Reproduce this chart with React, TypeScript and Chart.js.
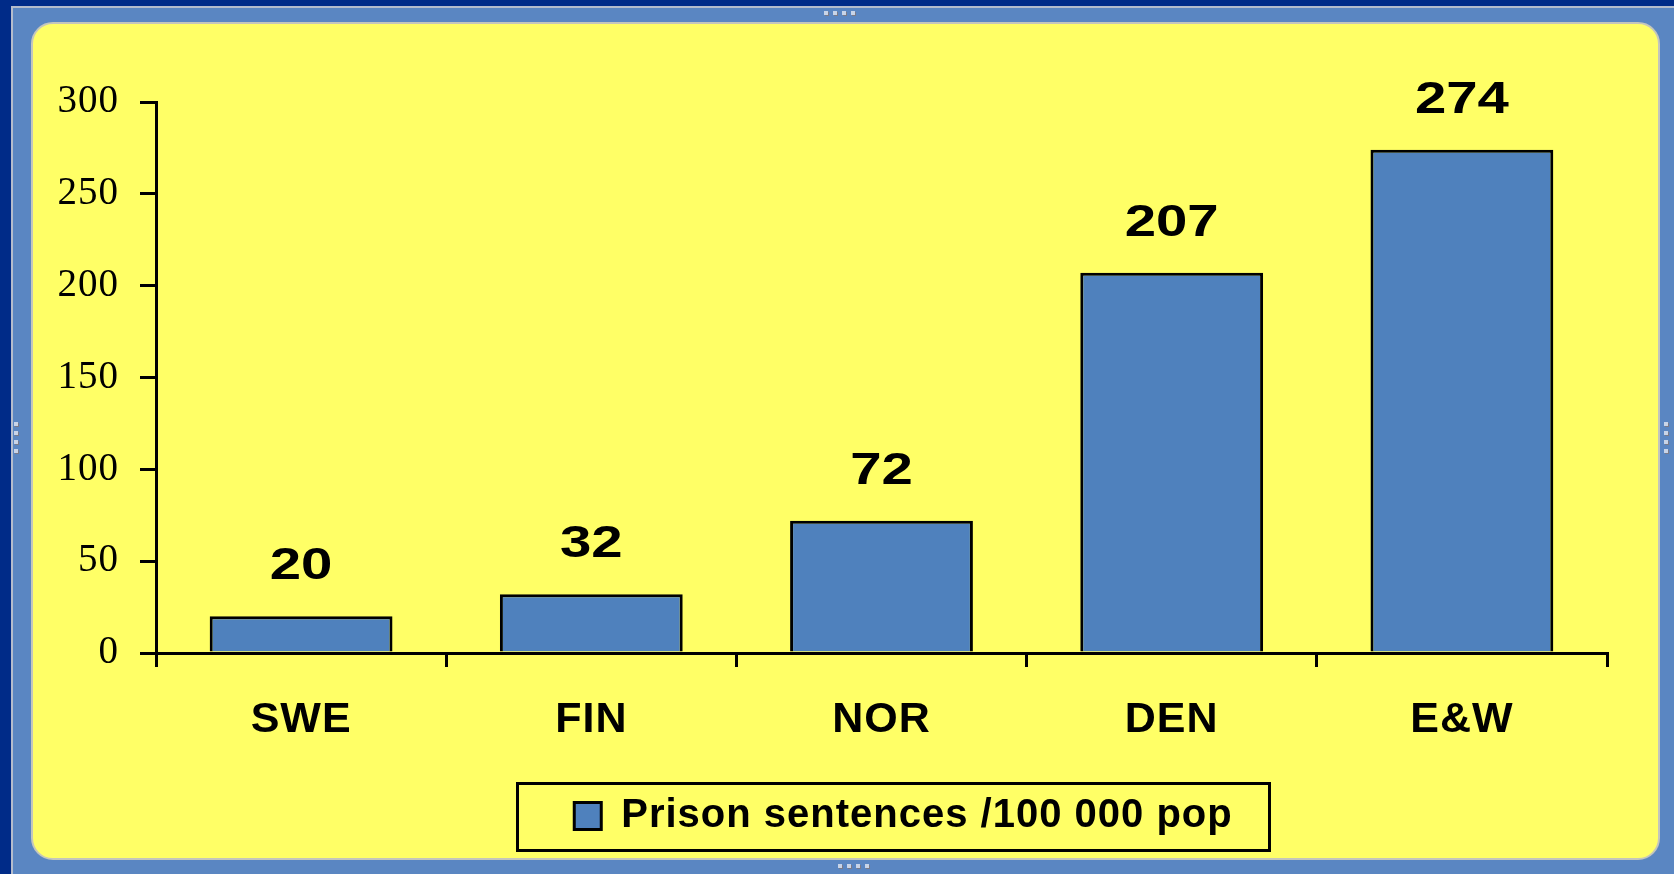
import React, { useEffect, useRef } from "react";
import { Chart, registerables } from "chart.js";

Chart.register(...registerables);

const categories = ["SWE", "FIN", "NOR", "DEN", "E&W"];
const sentences = [20, 32, 72, 207, 274];
const seriesLabel = "Prison sentences /100 000 pop";
const yTicks = [0, 50, 100, 150, 200, 250, 300];

const W = 1674;
const H = 874;
const SANS = "'Liberation Sans', Arial, sans-serif";
const SERIF = "'Liberation Serif', 'Times New Roman', serif";

const spacing = {
  id: "spacing",
  beforeLayout(chart: any) {
    chart.ctx.letterSpacing = "1px";
  },
  beforeDraw(chart: any) {
    chart.ctx.letterSpacing = "1px";
  },
  afterLayout(chart: any) {
    const lg = chart.legend;
    if (lg) {
      lg.left += 22;
      lg.right += 22;
    }
  },
};

const valueLabels = {
  id: "valueLabels",
  afterDatasetsDraw(chart: any) {
    const ctx = chart.ctx;
    const meta = chart.getDatasetMeta(0);
    const data = chart.data.datasets[0].data as number[];
    ctx.save();
    ctx.letterSpacing = "0px";
    ctx.fillStyle = "#000";
    ctx.font = `bold 44px ${SANS}`;
    ctx.textAlign = "center";
    ctx.textBaseline = "alphabetic";
    meta.data.forEach((bar: any, i: number) => {
      ctx.save();
      ctx.translate(bar.x, bar.y - 37);
      ctx.scale(1.28, 1);
      ctx.fillText(String(data[i]), 0, 0);
      ctx.restore();
    });
    ctx.restore();
  },
};

const legendBorder = {
  id: "legendBorder",
  afterDraw(chart: any) {
    const lg = chart.legend;
    if (!lg) return;
    const cx = (lg.left + lg.right) / 2 - 11;
    const cy = lg.top + 10 + 20;
    const bw = 752;
    const bh = 67;
    const ctx = chart.ctx;
    ctx.save();
    ctx.strokeStyle = "#000";
    ctx.lineWidth = 3;
    ctx.strokeRect(Math.round(cx - bw / 2) + 0.5, Math.round(cy - bh / 2) + 0.5, bw, bh);
    ctx.restore();
  },
};

function Handle({ style, vertical }: { style: React.CSSProperties; vertical?: boolean }) {
  const dots = [0, 1, 2, 3];
  return (
    <div style={{ position: "absolute", display: "flex", flexDirection: vertical ? "column" : "row", gap: 5, ...style }}>
      {dots.map((d) => (
        <div key={d} style={{ width: 4, height: 4, background: "#c8d4e8", boxShadow: "1px 1px 0 #7a7a88" }} />
      ))}
    </div>
  );
}

export default function App() {
  const ref = useRef<HTMLCanvasElement | null>(null);

  useEffect(() => {
    if (!ref.current) return;
    const chart = new Chart(ref.current, {
      type: "bar",
      data: {
        labels: categories,
        datasets: [
          {
            label: seriesLabel,
            data: sentences,
            backgroundColor: "#4F81BD",
            borderColor: "#000000",
            borderWidth: 3,
            categoryPercentage: 1,
            barPercentage: 0.63,
          },
        ],
      },
      options: {
        responsive: false,
        animation: false,
        devicePixelRatio: 1,
        layout: { padding: { left: 0, top: 102, right: 67, bottom: 28 } },
        plugins: {
          tooltip: { enabled: false },
          title: { display: false },
          legend: {
            display: true,
            position: "bottom",
            fullSize: false,
            labels: {
              color: "#000",
              font: { family: SANS, size: 40, weight: "bold" },
              boxWidth: 27,
              boxHeight: 27,
              padding: 10,
            },
          },
        },
        scales: {
          x: {
            offset: true,
            grid: {
              offset: true,
              drawOnChartArea: false,
              drawTicks: true,
              tickLength: 14,
              color: "#000",
              lineWidth: 3,
            },
            border: { display: true, color: "#000", width: 3 },
            ticks: {
              color: "#000",
              font: { family: SANS, size: 43, weight: "bold" },
              padding: 27,
              maxRotation: 0,
            },
            afterFit(axis: any) {
              axis.height = 133;
            },
          },
          y: {
            min: 0,
            max: 300,
            afterBuildTicks(axis: any) {
              axis.ticks = yTicks.map((v) => ({ value: v }));
            },
            grid: {
              drawOnChartArea: false,
              drawTicks: true,
              tickLength: 16,
              color: "#000",
              lineWidth: 3,
            },
            border: { display: true, color: "#000", width: 3 },
            ticks: {
              color: "#000",
              font: { family: SERIF, size: 39 },
              padding: 21,
            },
            afterFit(axis: any) {
              axis.width = 156;
            },
          },
        },
      },
      plugins: [spacing, valueLabels, legendBorder],
    });
    return () => chart.destroy();
  }, []);

  return (
    <div style={{ position: "fixed", left: 0, top: 0, width: W, height: H, background: "#002B88", overflow: "hidden" }}>
      <div
        style={{
          position: "absolute",
          left: 11,
          top: 6,
          right: 0,
          bottom: 0,
          background: "#5A86C2",
          borderLeft: "2px solid #B4BCCC",
          borderTop: "2px solid #B4BCCC",
        }}
      />
      <div
        style={{
          position: "absolute",
          left: 31,
          top: 22,
          width: 1629,
          height: 838,
          boxSizing: "border-box",
          background: "#FFFF66",
          border: "2px solid #C4C6BC",
          borderRadius: 22,
        }}
      />
      <Handle style={{ left: 824, top: 11 }} />
      <Handle style={{ left: 838, top: 864 }} />
      <Handle style={{ left: 14, top: 422 }} vertical />
      <Handle style={{ left: 1664, top: 422 }} vertical />
      <canvas ref={ref} width={W} height={H} style={{ position: "absolute", left: 0, top: 0, width: W, height: H }} />
    </div>
  );
}
